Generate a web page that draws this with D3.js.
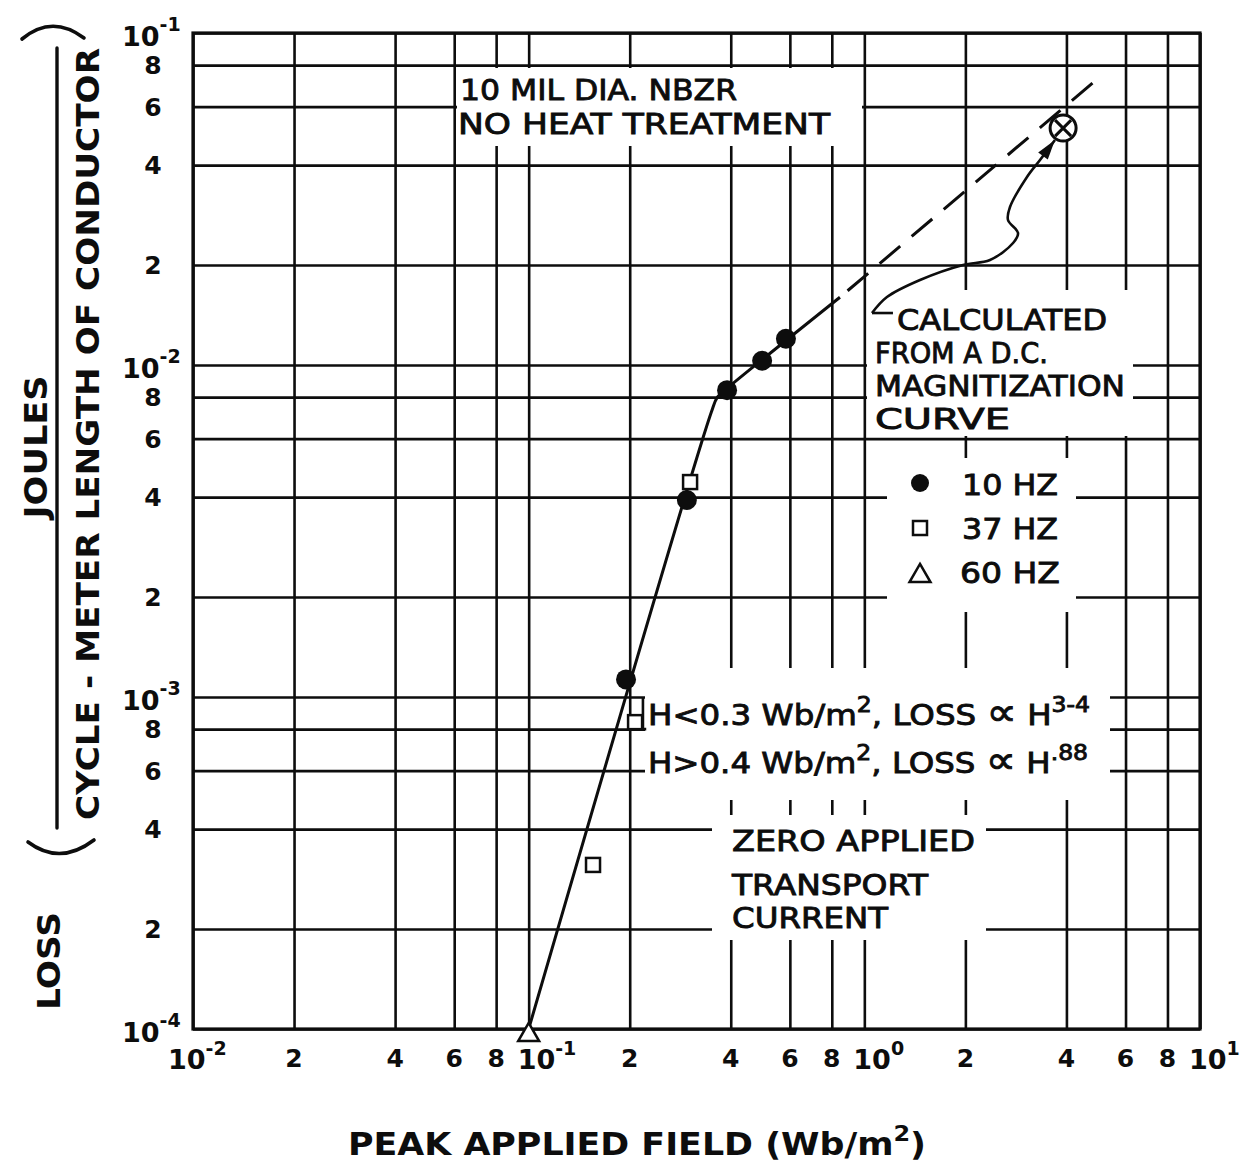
<!DOCTYPE html>
<html>
<head>
<meta charset="utf-8">
<script src="https://cdn.jsdelivr.net/npm/d3@7"></script>
<style>
  html, body { margin: 0; padding: 0; background: #fff; }
  svg { display: block; }
</style>
</head>
<body>
<svg id="chart" width="1245" height="1168"></svg>
<script>
// AC loss per cycle of a 10 mil NbZr wire versus peak applied field (log-log)

const xTickValues = [0.01, 0.02, 0.04, 0.06, 0.08, 0.1, 0.2, 0.4, 0.6, 0.8, 1, 2, 4, 6, 8, 10];
const xTickLabels = [["10", "-2"], ["2"], ["4"], ["6"], ["8"], ["10", "-1"], ["2"], ["4"], ["6"], ["8"],
                     ["10", "0"], ["2"], ["4"], ["6"], ["8"], ["10", "1"]];
const yTickValues = [1e-4, 2e-4, 4e-4, 6e-4, 8e-4, 1e-3, 2e-3, 4e-3, 6e-3, 8e-3,
                     1e-2, 2e-2, 4e-2, 6e-2, 8e-2, 1e-1];
const yTickLabels = [["10", "-4"], ["2"], ["4"], ["6"], ["8"], ["10", "-3"], ["2"], ["4"], ["6"], ["8"],
                     ["10", "-2"], ["2"], ["4"], ["6"], ["8"], ["10", "-1"]];

// measured points (Wb/m^2, J per cycle-metre)
const field10Hz = [0.195, 0.296, 0.390, 0.496, 0.584];
const loss10Hz  = [1.13e-3, 3.92e-3, 8.4e-3, 1.03e-2, 1.20e-2];
const field37Hz = [0.1555, 0.2075, 0.3026];
const loss37Hz  = [3.12e-4, 8.4e-4, 4.44e-3];
const field60Hz = [0.1];
const loss60Hz  = [1e-4];

// fitted curve through the data, then its dashed extension
const fitField = [0.1, 0.35, 0.365, 0.39, 0.846];
const fitLoss  = [1e-4, 7.2e-3, 8.0e-3, 8.5e-3, 1.60e-2];
const extField = [0.846, 4.87];
const extLoss  = [1.60e-2, 7.17e-2];

// value calculated from the d.c. magnetization curve
const dcField = [3.91];
const dcLoss  = [5.17e-2];

// leader from the "CALCULATED ..." note to that value
const leaderField = [1.217, 1.054, 1.168, 1.465, 1.968, 2.368, 2.774, 2.870, 2.679, 2.716, 3.052, 3.337, 3.698];
const leaderLoss  = [1.434e-2, 1.434e-2, 1.602e-2, 1.803e-2, 2.001e-2, 2.071e-2, 2.331e-2, 2.498e-2,
                     2.733e-2, 2.991e-2, 3.685e-2, 4.146e-2, 4.761e-2];

const W = 1245, H = 1168;
const plot = { left: 193, right: 1200, top: 33, bottom: 1029 };
const INK = "#0d0d0d";
const LABEL_FONT = "'DejaVu Sans', 'Liberation Sans', sans-serif";

const x = d3.scaleLog().domain([0.01, 10]).range([plot.left, plot.right]);
const y = d3.scaleLog().domain([1e-4, 1e-1]).range([plot.bottom, plot.top]);

const svg = d3.select("#chart");
svg.append("rect").attr("width", W).attr("height", H).attr("fill", "#fff");

// ---- grid lines drawn by the axes ----
const gridX = svg.append("g")
  .attr("transform", `translate(0,${plot.bottom})`)
  .call(d3.axisBottom(x).tickValues(xTickValues).tickSize(-(plot.bottom - plot.top)).tickFormat(""));
const gridY = svg.append("g")
  .attr("transform", `translate(${plot.left},0)`)
  .call(d3.axisLeft(y).tickValues(yTickValues).tickSize(-(plot.right - plot.left)).tickFormat(""));
[gridX, gridY].forEach(g => {
  g.select(".domain").remove();
  g.selectAll(".tick line").attr("stroke", INK).attr("stroke-width", 2.6);
});

// ---- white panels behind the notes (grid is interrupted there) ----
const panels = [
  [457, 68, 862, 146],     // title note
  [867, 290, 1133, 436],   // calculated note
  [887, 458, 1076, 612],   // legend
  [645, 668, 1110, 800],   // power-law note
  [712, 815, 986, 940]     // zero transport current note
];
svg.append("g").selectAll("rect").data(panels).join("rect")
  .attr("x", d => d[0]).attr("y", d => d[1])
  .attr("width", d => d[2] - d[0]).attr("height", d => d[3] - d[1])
  .attr("fill", "#fff");

// plot frame
svg.append("rect")
  .attr("x", plot.left).attr("y", plot.top)
  .attr("width", plot.right - plot.left).attr("height", plot.bottom - plot.top)
  .attr("fill", "none").attr("stroke", INK).attr("stroke-width", 3.2);

// small bracket at the power-law note
svg.append("path")
  .attr("d", `M${x(0.219)},${y(1e-3)} L${x(0.219)},${y(8e-4)} L${x(0.224)},${y(8e-4)}`)
  .attr("fill", "none").attr("stroke", INK).attr("stroke-width", 2.6);

// ---- helper for text with superscripts ----
function richText(parent, parts, o) {
  const t = parent.append("text")
    .attr("x", o.x).attr("y", o.y)
    .attr("font-family", o.family || LABEL_FONT)
    .attr("font-size", o.size)
    .attr("font-weight", o.weight || "normal")
    .attr("text-anchor", o.anchor || "start")
    .attr("fill", INK);
  if (o.stroke) t.attr("stroke", INK).attr("stroke-width", o.stroke);
  let raised = false;
  parts.forEach(([s, sup, big]) => {
    const ts = t.append("tspan").text(s);
    if (big) ts.attr("font-size", big);
    if (sup && !raised) { ts.attr("font-size", o.supSize).attr("dy", -o.raise); raised = true; }
    else if (sup) { ts.attr("font-size", o.supSize); }
    else if (raised) { ts.attr("dy", o.raise); raised = false; }
  });
  if (o.len) t.attr("textLength", o.len).attr("lengthAdjust", "spacingAndGlyphs");
  return t;
}

// ---- tick labels ----
const tickG = svg.append("g");
xTickValues.forEach((v, i) => {
  const lab = xTickLabels[i];
  if (lab.length === 1) {
    richText(tickG, [[lab[0]]], { x: x(v), y: 1067, size: 25, weight: "bold", anchor: "middle" });
  } else {
    const dx = i === 0 ? -25 : -11;
    richText(tickG, [[lab[0]], [lab[1], true]],
      { x: x(v) + dx, y: 1069, size: 27, supSize: 19, raise: 14, weight: "bold" });
  }
});
yTickValues.forEach((v, i) => {
  const lab = yTickLabels[i];
  if (lab.length === 1) {
    richText(tickG, [[lab[0]]], { x: 153, y: y(v) + 9, size: 25, weight: "bold", anchor: "middle" });
  } else {
    richText(tickG, [[lab[0]], [lab[1], true]],
      { x: 122, y: y(v) + 13, size: 27, supSize: 19, raise: 15, weight: "bold" });
  }
});

// ---- axis titles ----
richText(svg, [["PEAK APPLIED FIELD (Wb/m"], ["2", true], [")"]],
  { x: 348, y: 1155, size: 32, supSize: 22, raise: 14, weight: "bold", len: 578 });

function vTitle(str, xb, yc, size, len) {
  const g = svg.append("g").attr("transform", `translate(${xb},${yc}) rotate(-90)`);
  richText(g, [[str]], { x: 0, y: 0, size: size, weight: "bold", anchor: "middle", len: len });
}
vTitle("LOSS", 60, 961, 32, 98);
vTitle("JOULES", 47, 447, 32, 143);
vTitle("CYCLE - METER LENGTH OF CONDUCTOR", 99, 434, 32, 772);
// fraction bar and the rotated parentheses
svg.append("line").attr("x1", 57).attr("x2", 57).attr("y1", 48).attr("y2", 828)
  .attr("stroke", INK).attr("stroke-width", 3.4).attr("stroke-linecap", "round");
svg.append("path").attr("d", "M22,39 Q52,14 84,38")
  .attr("fill", "none").attr("stroke", INK).attr("stroke-width", 3.6).attr("stroke-linecap", "round");
svg.append("path").attr("d", "M28,842 Q60,866 94,840")
  .attr("fill", "none").attr("stroke", INK).attr("stroke-width", 3.6).attr("stroke-linecap", "round");

// ---- curves ----
const fitLine = d3.line().x(d => x(d[0])).y(d => y(d[1])).curve(d3.curveCatmullRom.alpha(0.5));
svg.append("path")
  .attr("d", fitLine(d3.zip(fitField, fitLoss)))
  .attr("fill", "none").attr("stroke", INK).attr("stroke-width", 3);
svg.append("path")
  .attr("d", d3.line().x(d => x(d[0])).y(d => y(d[1]))(d3.zip(extField, extLoss)))
  .attr("fill", "none").attr("stroke", INK).attr("stroke-width", 3)
  .attr("stroke-dasharray", "27,15").attr("stroke-dashoffset", 32);

// leader with arrowhead
const leaderPts = d3.zip(leaderField, leaderLoss).map(d => [x(d[0]), y(d[1])]);
svg.append("path")
  .attr("d", d3.line()(leaderPts.slice(0, 2)))
  .attr("fill", "none").attr("stroke", INK).attr("stroke-width", 2.6);
svg.append("path")
  .attr("d", d3.line().curve(d3.curveCatmullRom.alpha(0.5))(leaderPts.slice(1)))
  .attr("fill", "none").attr("stroke", INK).attr("stroke-width", 2.6);
{
  const tip = leaderPts[leaderPts.length - 1];
  const prev = leaderPts[leaderPts.length - 2];
  const ang = Math.atan2(tip[1] - prev[1], tip[0] - prev[0]);
  const L = 20, Wd = 6;
  const bx = tip[0] - L * Math.cos(ang), by = tip[1] - L * Math.sin(ang);
  const px = -Math.sin(ang) * Wd, py = Math.cos(ang) * Wd;
  svg.append("path")
    .attr("d", `M${tip[0]},${tip[1]} L${bx + px},${by + py} L${bx - px},${by - py} Z`)
    .attr("fill", INK);
}

// ---- data markers ----
svg.append("g").selectAll("circle").data(d3.zip(field10Hz, loss10Hz)).join("circle")
  .attr("cx", d => x(d[0])).attr("cy", d => y(d[1])).attr("r", 10).attr("fill", INK);
svg.append("g").selectAll("rect").data(d3.zip(field37Hz, loss37Hz)).join("rect")
  .attr("x", d => x(d[0]) - 7).attr("y", d => y(d[1]) - 7)
  .attr("width", 14).attr("height", 14)
  .attr("fill", "#fff").attr("stroke", INK).attr("stroke-width", 2.5);
const tri = d3.symbol().type(d3.symbolTriangle).size(190);
svg.append("g").selectAll("path").data(d3.zip(field60Hz, loss60Hz)).join("path")
  .attr("transform", d => `translate(${x(d[0])},${y(d[1]) + 6})`)
  .attr("d", tri).attr("fill", "#fff").attr("stroke", INK).attr("stroke-width", 2.5);

// calculated point: circled cross
const dcG = svg.append("g").selectAll("g").data(d3.zip(dcField, dcLoss)).join("g")
  .attr("transform", d => `translate(${x(d[0])},${y(d[1])})`);
dcG.append("circle").attr("r", 13).attr("fill", "#fff").attr("stroke", INK).attr("stroke-width", 3);
dcG.append("path").attr("d", "M-8,-8 L8,8 M-8,8 L8,-8").attr("stroke", INK).attr("stroke-width", 3);

// ---- notes ----
const notes = svg.append("g");
const note = (parts, xx, yy, len) =>
  richText(notes, parts, { x: xx, y: yy, size: 29, supSize: 21, raise: 13, len: len, stroke: 0.9 });
note([["10 MIL DIA. NBZR"]], 460, 100, 277);
note([["NO HEAT TREATMENT"]], 458, 134, 372);
note([["CALCULATED"]], 897, 330, 210);
note([["FROM A D.C."]], 875, 363, 173);
note([["MAGNITIZATION"]], 875, 396, 250);
note([["CURVE"]], 875, 429, 135);
note([["10  HZ"]], 962, 495, 96);
note([["37 HZ"]], 962, 539, 96);
note([["60 HZ"]], 960, 583, 100);
note([["H<0.3 Wb/m"], ["2", true], [", LOSS "], ["\u221D", false, 38], [" H"], ["3-4", true]], 648, 725, 442);
note([["H>0.4 Wb/m"], ["2", true], [", LOSS "], ["\u221D", false, 38], [" H"], [".88", true]], 648, 773, 440);
note([["ZERO APPLIED"]], 732, 851, 243);
note([["TRANSPORT"]], 732, 895, 196);
note([["CURRENT"]], 732, 928, 156);

// legend symbols
const leg = svg.append("g");
leg.append("circle").attr("cx", 920).attr("cy", 483).attr("r", 9).attr("fill", INK);
leg.append("rect").attr("x", 913).attr("y", 521).attr("width", 14).attr("height", 14)
  .attr("fill", "#fff").attr("stroke", INK).attr("stroke-width", 2.5);
leg.append("path").attr("transform", "translate(920,576)").attr("d", tri)
  .attr("fill", "#fff").attr("stroke", INK).attr("stroke-width", 2.5);
</script>
</body>
</html>
